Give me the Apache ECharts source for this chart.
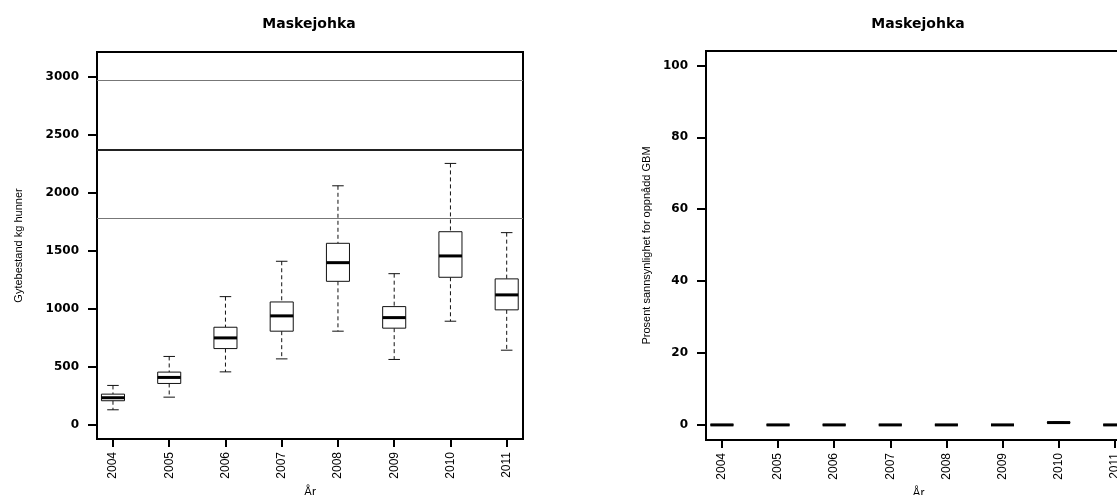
<!DOCTYPE html>
<html>
<head>
<meta charset="utf-8">
<title>Maskejohka</title>
<script src="https://cdn.jsdelivr.net/npm/echarts@6.0.0/dist/echarts.min.js"></script>
<style>
  html, body { margin: 0; padding: 0; background: #fff; }
  #chart { width: 1117px; height: 495px; }
</style>
</head>
<body>
<div id="chart"></div>
<script>
// år på x-aksen
const years = [2004, 2005, 2006, 2007, 2008, 2009, 2010, 2011];

// gytebestand (kg hunner), boksplott per år
const gyteMin = [129, 238, 456, 568, 807, 563, 893, 643];
const gyteQ1 = [207, 356, 657, 807, 1237, 833, 1272, 991];
const gyteMedian = [233, 408, 749, 939, 1398, 924, 1456, 1120];
const gyteQ3 = [264, 454, 841, 1059, 1565, 1019, 1665, 1258];
const gyteMax = [339, 589, 1105, 1410, 2061, 1303, 2254, 1657];

// gytebestandsmål med nedre og øvre grense
const gbmLines = [1781, 2375, 2969];

// prosent sannsynlighet for oppnådd GBM
const probMin = [0, 0, 0, 0, 0, 0, 0.5, 0];
const probQ1 = [0, 0, 0, 0, 0, 0, 0.6, 0];
const probMedian = [0, 0, 0, 0, 0, 0, 0.65, 0];
const probQ3 = [0, 0, 0, 0, 0, 0, 0.7, 0];
const probMax = [0, 0, 0, 0, 0, 0, 0.8, 0];

// tick-verdier
const gyteTicks = [0, 500, 1000, 1500, 2000, 2500, 3000];
const probTicks = [0, 20, 40, 60, 80, 100];

const BOX_WIDTH = 0.41; // i år-enheter

function toBoxData (mins, q1s, meds, q3s, maxs) {
  return years.map((y, i) => [y, mins[i], q1s[i], meds[i], q3s[i], maxs[i]]);
}

// R-aktig boksplott: stiplede værhår, korte endestreker, tykk median
function renderBox (params, api) {
  const x = api.value(0);
  const lo = api.coord([x, api.value(1)]);
  const q1 = api.coord([x, api.value(2)]);
  const med = api.coord([x, api.value(3)]);
  const q3 = api.coord([x, api.value(4)]);
  const hi = api.coord([x, api.value(5)]);
  const w = api.size([BOX_WIDTH, 0])[0];
  const cx = lo[0];
  const dashed = { stroke: '#111', lineWidth: 1, lineDash: [4, 3] };
  const solid = { stroke: '#111', lineWidth: 1 };
  return {
    type: 'group',
    children: [
      { type: 'line', shape: { x1: cx, y1: hi[1], x2: cx, y2: q3[1] }, style: dashed },
      { type: 'line', shape: { x1: cx, y1: q1[1], x2: cx, y2: lo[1] }, style: dashed },
      { type: 'line', shape: { x1: cx - w / 4, y1: hi[1], x2: cx + w / 4, y2: hi[1] }, style: solid },
      { type: 'line', shape: { x1: cx - w / 4, y1: lo[1], x2: cx + w / 4, y2: lo[1] }, style: solid },
      {
        type: 'rect',
        shape: { x: cx - w / 2, y: q3[1], width: w, height: q1[1] - q3[1] },
        style: { fill: '#fff', stroke: '#111', lineWidth: 1 }
      },
      { type: 'line', shape: { x1: cx - w / 2, y1: med[1], x2: cx + w / 2, y2: med[1] }, style: { stroke: '#000', lineWidth: 3 } }
    ]
  };
}

function xAxisFor (gridIndex) {
  return {
    type: 'value',
    gridIndex: gridIndex,
    min: 2003.716,
    max: 2011.29,
    name: 'År',
    nameLocation: 'middle',
    nameGap: 46,
    nameTextStyle: { fontFamily: 'Liberation Sans', fontSize: 12, color: '#000' },
    axisLine: { show: false, onZero: false },
    axisTick: { customValues: years, length: 8, lineStyle: { color: '#000', width: 2 } },
    axisLabel: {
      customValues: years,
      rotate: 90,
      margin: 13,
      fontFamily: 'Liberation Sans',
      fontSize: 12,
      color: '#000',
      formatter: v => String(v)
    },
    splitLine: { show: false }
  };
}

function yAxisFor (gridIndex, min, max, ticks, name, nameGap) {
  return {
    type: 'value',
    gridIndex: gridIndex,
    min: min,
    max: max,
    name: name,
    nameLocation: 'middle',
    nameGap: nameGap,
    nameTextStyle: { fontFamily: 'Liberation Sans', fontSize: 11, color: '#000' },
    axisLine: { show: false, onZero: false },
    axisTick: { customValues: ticks, length: 9, lineStyle: { color: '#000', width: 2 } },
    axisLabel: {
      customValues: ticks,
      margin: 18,
      fontFamily: 'DejaVu Sans',
      fontWeight: 'bold',
      fontSize: 12,
      color: '#000',
      formatter: v => String(v)
    },
    splitLine: { show: false }
  };
}

const titleStyle = { fontFamily: 'DejaVu Sans', fontWeight: 'bold', fontSize: 14, color: '#000' };

const gridBase = {
  show: true,
  borderColor: '#000',
  borderWidth: 2,
  backgroundColor: 'transparent',
  outerBoundsMode: 'none',
  containLabel: false
};

const myChart = echarts.init(document.getElementById('chart'), null, { renderer: 'canvas' });
const option = {
  animation: false,
  backgroundColor: '#fff',
  title: [
    { text: 'Maskejohka', left: 309, top: 24, padding: 0, textAlign: 'center', textVerticalAlign: 'middle', textStyle: titleStyle },
    { text: 'Maskejohka', left: 918, top: 24, padding: 0, textAlign: 'center', textVerticalAlign: 'middle', textStyle: titleStyle }
  ],
  grid: [
    Object.assign({ left: 97, top: 52, width: 426, height: 387 }, gridBase),
    Object.assign({ left: 706, top: 51, width: 425, height: 389 }, gridBase)
  ],
  xAxis: [xAxisFor(0), xAxisFor(1)],
  yAxis: [
    yAxisFor(0, -123, 3215, gyteTicks, 'Gytebestand kg hunner', 73),
    yAxisFor(1, -4.2, 104, probTicks, 'Prosent sannsynlighet for oppnådd GBM', 54)
  ],
  series: [
    {
      name: 'Gytebestand',
      type: 'custom',
      xAxisIndex: 0,
      yAxisIndex: 0,
      renderItem: renderBox,
      encode: { x: 0, y: [1, 2, 3, 4, 5] },
      data: toBoxData(gyteMin, gyteQ1, gyteMedian, gyteQ3, gyteMax),
      z: 3,
      markLine: {
        silent: true,
        symbol: ['none', 'none'],
        label: { show: false },
        data: gbmLines.map((v, i) => ({
          yAxis: v,
          lineStyle: i === 1
            ? { color: '#222', width: 2, type: 'solid' }
            : { color: '#777', width: 1, type: 'solid' }
        }))
      }
    },
    {
      name: 'Sannsynlighet',
      type: 'custom',
      xAxisIndex: 1,
      yAxisIndex: 1,
      renderItem: renderBox,
      encode: { x: 0, y: [1, 2, 3, 4, 5] },
      data: toBoxData(probMin, probQ1, probMedian, probQ3, probMax),
      z: 3
    }
  ]
};
myChart.setOption(option);
</script>
</body>
</html>
